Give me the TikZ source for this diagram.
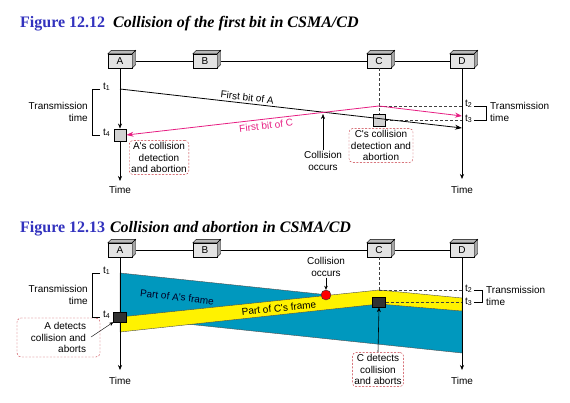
\documentclass[tikz,border=0pt]{standalone}
\usepackage{fontspec}
\setmainfont{Liberation Serif}
\newfontfamily\lab{Liberation Sans}
\usetikzlibrary{arrows.meta,calc}
\definecolor{titleblue}{RGB}{50,50,190}
\definecolor{pinkline}{RGB}{230,30,130}
\definecolor{framefill}{RGB}{0,152,190}
\definecolor{labred}{RGB}{195,45,55}
\definecolor{darkbox}{RGB}{50,50,50}
\begin{document}
\begin{tikzpicture}[x=1pt,y=-1pt,
  every node/.style={font=\lab\fontsize{10}{11.5}\selectfont, inner sep=1pt},
  station/.style={draw, fill=gray!22, minimum width=24pt, minimum height=14pt, inner sep=0pt},
  face/.style={draw, fill=gray!55},
  lab/.style={draw=labred, dash pattern=on 2pt off 1.5pt, rounded corners=4pt, align=center, inner sep=2pt},
  tline/.style={semithick, -{Stealth[length=5pt,width=4pt]}},
  dashline/.style={dash pattern=on 3pt off 2pt, black!75},
  brack/.style={thin},
  graybox/.style={draw, fill=gray!35, minimum size=12.5pt, inner sep=0pt},
  blackbox/.style={draw, fill=darkbox, minimum width=13pt, minimum height=10pt, inner sep=0pt},
  ttl/.style={font=\fontsize{16}{18}\selectfont\bfseries, anchor=base west, inner sep=0pt}
]
\useasboundingbox (0,0) rectangle (570,402);

% ---------------- Titles ----------------
\node[ttl] (title1) at (20,27) {\textcolor{titleblue}{Figure 12.12}\hspace{0.5em}\textit{Collision of the first bit in CSMA/CD}};
\node[ttl] (title2) at (20,232) {\textcolor{titleblue}{Figure 12.13}\hspace{0.3em}\textit{Collision and abortion in CSMA/CD}};

% ================= Figure 12.12 =================
\node[station] (A1) at (120,61) {A};
\node[station] (B1) at (205,61) {B};
\node[station] (C1) at (379,61) {C};
\node[station] (D1) at (462,61) {D};
\foreach \n in {A1,B1,C1,D1}{
  \draw[face] (\n.north west) -- ++(3.5,-3.5) -- ($(\n.north east)+(3.5,-3.5)$) -- (\n.north east) -- cycle;
  \draw[face, fill=gray!70] (\n.north east) -- ++(3.5,-3.5) -- ($(\n.south east)+(3.5,-3.5)$) -- (\n.south east) -- cycle;
}
\draw[thick] ($(A1.east)+(3.5,0)$) -- (B1.west);
\draw[thick] ($(B1.east)+(3.5,0)$) -- (C1.west);
\draw[thick] ($(C1.east)+(3.5,0)$) -- (D1.west);

\coordinate (a1t1) at (120,89);
\coordinate (a1end) at (120,181);
\coordinate (d1end) at (462,179);
\coordinate (c1t2) at (379,106);
\coordinate (d1t2) at (462,106);
\coordinate (d1t3) at (462,120);
\coordinate (d1a) at (462,128);
\coordinate (d1m) at (462,116);

\node[graybox] (A1x) at (120,135) {};
\node[graybox] (C1x) at (379,120) {};

\draw[tline] (A1.south) -- (A1x.north);
\draw[tline] (A1x.south) -- (a1end);
\draw[tline] (D1.south) -- (d1end);
\node (time1a) at (120,190) {Time};
\node (time1d) at (462,190) {Time};

\draw[dashline] (C1.south) -- (C1x.north);
\draw[dashline] (c1t2) -- (d1t2);
\draw[dashline] (C1x.east) -- (d1t3);

\draw[thick, -{Stealth[length=7pt,width=5pt]}] (a1t1) -- (d1a)
  node[pos=0.37, sloped, above=1pt] (fbA) {First bit of A};
\draw[thick, pinkline, -{Stealth[length=7pt,width=5pt]}] (c1t2) -- (A1x.east)
  node[pos=0.45, sloped, below=1.5pt, text=pinkline] (fbC) {First bit of C};
\draw[thick, pinkline, -{Stealth[length=7pt,width=5pt]}] (c1t2) -- (d1m);

\node[align=center] (coll1) at (323,161) {Collision\\occurs};
\draw[-{Stealth[length=5pt,width=4pt]}] (coll1.north) -- (323,114);

\node[lab] (A1lab) at (159,157.5) {A's collision\\detection\\and abortion};
\node[lab] (C1lab) at (381,145.5) {C's collision\\detection and\\abortion};

% left bracket
\draw[brack] (100,89) -- (92,89) -- (92,135) -- (100,135);
\node[anchor=west] (t1a) at (102,87) {t\textsubscript{1}};
\node[anchor=west] (t4a) at (102,133) {t\textsubscript{4}};
\node[anchor=east, align=right] (tt1) at (89,112) {Transmission\\time};
% right bracket
\draw[brack] (474,106) -- (486,106) -- (486,120) -- (474,120);
\node[anchor=west] (t2a) at (464,104) {t\textsubscript{2}};
\node[anchor=west] (t3a) at (464,119) {t\textsubscript{3}};
\node[anchor=west, align=left] (tt2) at (489,112) {Transmission\\time};

% ================= Figure 12.13 =================
\node[station] (A2) at (120,250) {A};
\node[station] (B2) at (205,250) {B};
\node[station] (C2) at (379,250) {C};
\node[station] (D2) at (462,250) {D};
\foreach \n in {A2,B2,C2,D2}{
  \draw[face] (\n.north west) -- ++(3.5,-3.5) -- ($(\n.north east)+(3.5,-3.5)$) -- (\n.north east) -- cycle;
  \draw[face, fill=gray!70] (\n.north east) -- ++(3.5,-3.5) -- ($(\n.south east)+(3.5,-3.5)$) -- (\n.south east) -- cycle;
}
\draw[thick] ($(A2.east)+(3.5,0)$) -- (B2.west);
\draw[thick] ($(B2.east)+(3.5,0)$) -- (C2.west);
\draw[thick] ($(C2.east)+(3.5,0)$) -- (D2.west);

% frames
\fill[framefill, draw=black!70, thin] (120,273) -- (462,309) -- (462,353) -- (120,317) -- cycle;
\fill[yellow, draw=black!70, thin] (120,317) -- (379,290) -- (462,298) -- (462,311) -- (379,304) -- (120,332) -- cycle;

\coordinate (a2end) at (120,370);
\coordinate (d2end) at (462,370);
\coordinate (c2t2) at (379,290);
\coordinate (d2t2) at (462,290);
\coordinate (d2t3) at (462,302);

\draw[tline] (A2.south) -- (a2end);
\draw[tline] (D2.south) -- (d2end);
\node (time2a) at (120,381) {Time};
\node (time2d) at (462,381) {Time};

\draw[dashline] (C2.south) -- (c2t2);
\draw[dashline] (c2t2) -- (d2t2);

\node[blackbox] (A2x) at (120,317) {};
\node[blackbox] (C2x) at (379,302) {};
\draw[dashline] (C2x.east) -- (d2t3);

\node[circle, draw=black!80, fill=red, minimum size=10pt, inner sep=0pt] (hit) at (326,295) {};
\node[align=center] (coll2) at (326,267) {Collision\\occurs};
\draw[-{Stealth[length=4pt,width=3.5pt]}] (coll2.south) -- (hit.north);

\node[rotate=-6.5, text=black!85!blue] (pA) at (177,297) {Part of A's frame};
\node[rotate=6] (pC) at (279,308) {Part of C's frame};

\node[lab] (C2lab) at (378,369.5) {C detects\\collision\\and aborts};
\draw[semithick, -{Stealth[length=5pt,width=4pt]}] (C2lab.north) -- (C2x.south);

\node[lab, align=right, minimum width=83pt, minimum height=39pt] (A2lab) at (58.5,337.5) {A detects\\collision and\\aborts};
\coordinate (a2labout) at (91,337);
\draw[-{Stealth[length=4pt,width=3.5pt]}] (a2labout) -- (A2x.south west);

% left bracket
\draw[brack] (100,273) -- (92,273) -- (92,317) -- (100,317);
\node[anchor=west] (t1b) at (102,271) {t\textsubscript{1}};
\node[anchor=west] (t4b) at (102,315) {t\textsubscript{4}};
\node[anchor=east, align=right] (tt3) at (89,295) {Transmission\\time};
% right bracket
\draw[brack] (474,290) -- (482,290) -- (482,302) -- (474,302);
\node[anchor=west] (t2b) at (464,289) {t\textsubscript{2}};
\node[anchor=west] (t3b) at (464,302) {t\textsubscript{3}};
\node[anchor=west, align=left] (tt4) at (485,296) {Transmission\\time};
\end{tikzpicture}
\end{document}
